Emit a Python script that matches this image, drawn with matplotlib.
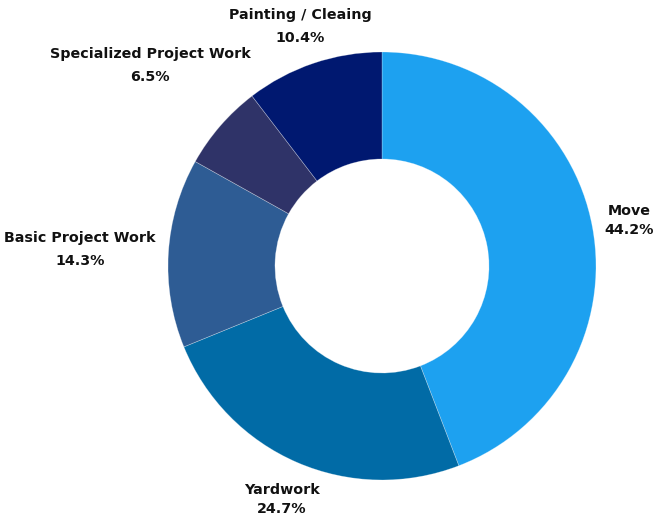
import matplotlib
matplotlib.use("Agg")
import matplotlib.pyplot as plt
import numpy as np

categories = ["Move", "Yardwork", "Basic Project Work", "Specialized Project Work", "Painting / Cleaing"]
values = [44.2, 24.7, 14.3, 6.5, 10.4]
colors = ["#1DA1F0", "#016BA6", "#2E5C94", "#2F3368", "#001870"]
# label center offsets relative to the outer-edge midpoint of each wedge (layout, in radius units)
label_offsets = [(0.171, 0.028), (-0.070, -0.172), (-0.413, 0.016), (-0.328, 0.282), (-0.062, 0.172)]
label_linespacing = [1.45, 1.45, 1.75, 1.75, 1.75]

plt.rcParams['font.family'] = ['DejaVu Sans']

fig = plt.figure(figsize=(6.59, 5.19), dpi=100)
ax = fig.add_axes([0, 0, 1, 1])

wedges, _ = ax.pie(values, colors=colors, startangle=90, counterclock=False,
                   radius=1.0, wedgeprops=dict(width=0.5, edgecolor=(1, 1, 1, 0.35), linewidth=0.5),
                   normalize=True)
ax.set_xlim(-382 / 214, 277 / 214)
ax.set_ylim(-253 / 214, 266 / 214)
ax.set_aspect('auto')
ax.axis('off')

for w, cat, val, (dx, dy), ls in zip(wedges, categories, values, label_offsets, label_linespacing):
    ang = np.deg2rad((w.theta1 + w.theta2) / 2)
    x, y = np.cos(ang) + dx, np.sin(ang) + dy
    ax.text(x, y, f"{cat}\n{val}%", ha='center', va='center', fontsize=10.3,
            fontweight='bold', color='#111111', linespacing=ls)

fig.savefig("out.png", dpi=100)
